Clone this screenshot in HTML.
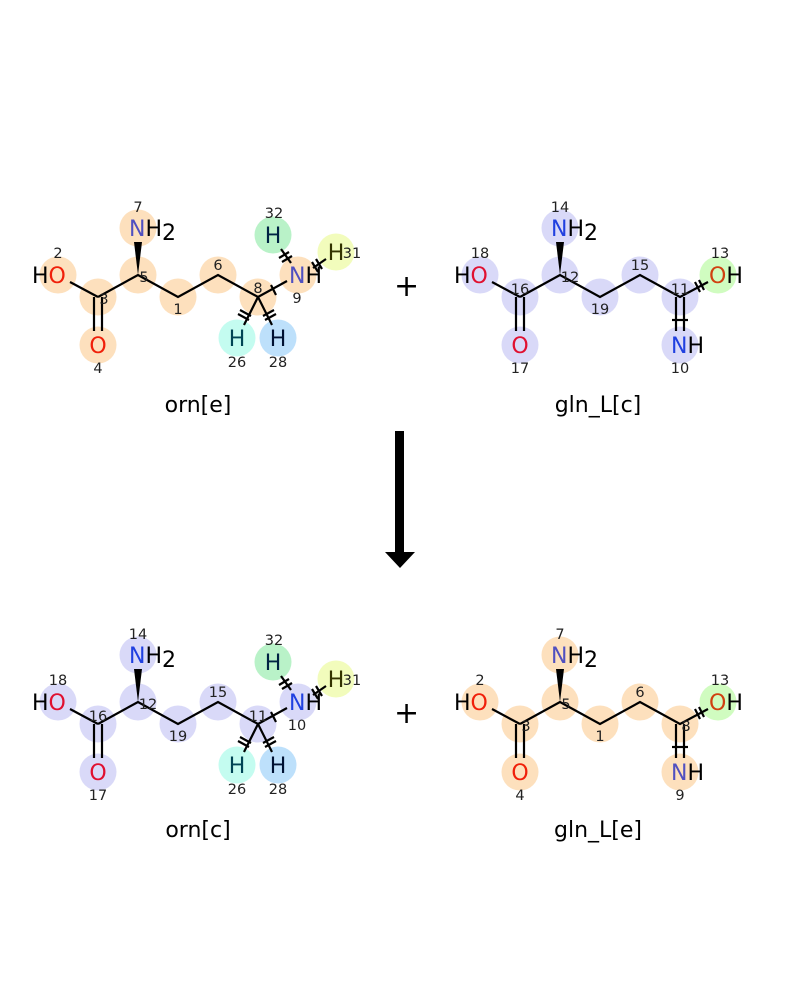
<!DOCTYPE html>
<html><head><meta charset="utf-8"><style>
html,body{margin:0;padding:0;background:#fff;width:800px;height:1000px;overflow:hidden}
svg{display:block}
.a{font-family:"DejaVu Sans","Liberation Sans",sans-serif;font-size:22px}
.c{text-anchor:middle}
.n{font-family:"DejaVu Sans","Liberation Sans",sans-serif;font-size:14.5px;fill:#222}
.t{font-family:"DejaVu Sans","Liberation Sans",sans-serif;font-size:22px;fill:#000}
.b{stroke:#000;stroke-width:2.2;fill:none}
.h{stroke:#000;stroke-width:2.2}
</style></head><body>
<svg width="800" height="1000" viewBox="0 0 800 1000" xmlns="http://www.w3.org/2000/svg">
<defs>
<g id="ornBonds">
<line class="b" x1="70" y1="282" x2="98" y2="297"/>
<polyline class="b" points="98,297 138,275 178,297 218,275 258,297 287,281"/>
<line class="b" x1="94" y1="297" x2="94" y2="331"/>
<line class="b" x1="102" y1="297" x2="102" y2="331"/>
<polygon points="138,275 134,242 142,242" fill="#000"/>
<line class="b" x1="258" y1="297" x2="244" y2="325"/>
<line class="b" x1="258" y1="297" x2="272" y2="325"/>
<line class="b" x1="291" y1="263" x2="281" y2="249"/>
<line class="b" x1="313" y1="268" x2="326" y2="259"/>
<line class="h" x1="271" y1="285" x2="276" y2="295"/>
<line class="h" x1="238" y1="314" x2="249" y2="320"/><line class="h" x1="240" y1="310" x2="251" y2="316"/>
<line class="h" x1="265" y1="320" x2="276" y2="314"/><line class="h" x1="263" y1="316" x2="274" y2="310"/>
<line class="h" x1="279" y1="258" x2="289" y2="252"/><line class="h" x1="282" y1="262" x2="292" y2="256"/>
<line class="h" x1="312" y1="262" x2="318" y2="272"/><line class="h" x1="316" y1="259" x2="322" y2="269"/>
</g>
<g id="glnBonds">
<line class="b" x1="492" y1="282" x2="520" y2="297"/>
<polyline class="b" points="520,297 560,275 600,297 640,275 680,297 708,282"/>
<line class="b" x1="516" y1="297" x2="516" y2="331"/>
<line class="b" x1="524" y1="297" x2="524" y2="331"/>
<line class="b" x1="676" y1="297" x2="676" y2="331"/>
<line class="b" x1="684" y1="297" x2="684" y2="331"/>
<line class="h" x1="672" y1="320" x2="688" y2="320"/>
<polygon points="560,275 556,242 564,242" fill="#000"/>
<line class="h" x1="695" y1="282" x2="700" y2="292"/><line class="h" x1="699" y1="280" x2="704" y2="290"/>
</g>
</defs>

<!-- TOP LEFT orn[e] -->
<g>
<g fill="#fde0bd">
<circle cx="58" cy="275" r="18.5"/><circle cx="98" cy="297" r="18.5"/><circle cx="98" cy="345" r="18.5"/>
<circle cx="138" cy="275" r="18.5"/><circle cx="138" cy="228" r="18.5"/><circle cx="178" cy="297" r="18.5"/>
<circle cx="218" cy="275" r="18.5"/><circle cx="258" cy="297" r="18.5"/><circle cx="298" cy="275" r="18.5"/>
</g>
<circle cx="273" cy="235" r="18.5" fill="#b9f2c8"/>
<circle cx="336" cy="252" r="18.5" fill="#f2fcbc"/>
<circle cx="237" cy="338" r="18.5" fill="#c4fcf0"/>
<circle cx="278" cy="338" r="18.5" fill="#bde0fb"/>
<use href="#ornBonds"/>
<text class="a" x="32" y="283"><tspan fill="#000">H</tspan><tspan fill="#f0200a">O</tspan></text>
<text class="a c" x="98" y="353" fill="#f0200a">O</text>
<text class="a" x="129" y="236"><tspan fill="#5050c0">N</tspan><tspan fill="#000">H</tspan><tspan dy="4" fill="#000">2</tspan></text>
<text class="a" x="289" y="283"><tspan fill="#5050c0">N</tspan><tspan fill="#000">H</tspan></text>
<text class="a c" x="273" y="243" fill="#024">H</text>
<text class="a c" x="336" y="260" fill="#330">H</text>
<text class="a c" x="237" y="346" fill="#045">H</text>
<text class="a c" x="278" y="346" fill="#013">H</text>
<g class="n" text-anchor="middle">
<text x="58" y="258">2</text><text x="104" y="304">3</text><text x="98" y="373">4</text>
<text x="144" y="282">5</text><text x="138" y="212">7</text><text x="178" y="314">1</text>
<text x="218" y="270">6</text><text x="258" y="293">8</text><text x="297" y="303">9</text>
<text x="274" y="218">32</text><text x="352" y="258">31</text>
<text x="237" y="367">26</text><text x="278" y="367">28</text>
</g>
<text class="t" x="198" y="412" text-anchor="middle">orn[e]</text>
</g>

<!-- TOP RIGHT gln_L[c] -->
<g>
<g fill="#d9d9f8">
<circle cx="480" cy="275" r="18.5"/><circle cx="520" cy="297" r="18.5"/><circle cx="520" cy="345" r="18.5"/>
<circle cx="560" cy="275" r="18.5"/><circle cx="560" cy="228" r="18.5"/><circle cx="600" cy="297" r="18.5"/>
<circle cx="640" cy="275" r="18.5"/><circle cx="680" cy="297" r="18.5"/><circle cx="680" cy="345" r="18.5"/>
</g>
<circle cx="718" cy="275" r="18.5" fill="#d0fcc0"/>
<use href="#glnBonds"/>
<text class="a" x="454" y="283"><tspan fill="#000">H</tspan><tspan fill="#e01030">O</tspan></text>
<text class="a c" x="520" y="353" fill="#e01030">O</text>
<text class="a" x="551" y="236"><tspan fill="#2040e0">N</tspan><tspan fill="#000">H</tspan><tspan dy="4" fill="#000">2</tspan></text>
<text class="a" x="709" y="283"><tspan fill="#d04010">O</tspan><tspan fill="#000">H</tspan></text>
<text class="a" x="671" y="353"><tspan fill="#2040e0">N</tspan><tspan fill="#000">H</tspan></text>
<g class="n" text-anchor="middle">
<text x="480" y="258">18</text><text x="520" y="294">16</text><text x="520" y="373">17</text>
<text x="570" y="282">12</text><text x="560" y="212">14</text><text x="600" y="314">19</text>
<text x="640" y="270">15</text><text x="680" y="294">11</text><text x="680" y="373">10</text>
<text x="720" y="258">13</text>
</g>
<text class="t" x="598" y="412" text-anchor="middle">gln_L[c]</text>
</g>

<!-- arrow and plus -->
<rect x="395" y="431" width="9" height="124" fill="#000"/>
<polygon points="385,552 415,552 400,568" fill="#000"/>
<text x="394" y="296" style="font-family:'DejaVu Sans',sans-serif;font-size:30px">+</text>
<text x="394" y="723" style="font-family:'DejaVu Sans',sans-serif;font-size:30px">+</text>

<!-- BOTTOM LEFT orn[c] -->
<g transform="translate(0,427)">
<g fill="#d9d9f8">
<circle cx="58" cy="275" r="18.5"/><circle cx="98" cy="297" r="18.5"/><circle cx="98" cy="345" r="18.5"/>
<circle cx="138" cy="275" r="18.5"/><circle cx="138" cy="228" r="18.5"/><circle cx="178" cy="297" r="18.5"/>
<circle cx="218" cy="275" r="18.5"/><circle cx="258" cy="297" r="18.5"/><circle cx="298" cy="275" r="18.5"/>
</g>
<circle cx="273" cy="235" r="18.5" fill="#b9f2c8"/>
<circle cx="336" cy="252" r="18.5" fill="#f2fcbc"/>
<circle cx="237" cy="338" r="18.5" fill="#c4fcf0"/>
<circle cx="278" cy="338" r="18.5" fill="#bde0fb"/>
<use href="#ornBonds"/>
<text class="a" x="32" y="283"><tspan fill="#000">H</tspan><tspan fill="#e01030">O</tspan></text>
<text class="a c" x="98" y="353" fill="#e01030">O</text>
<text class="a" x="129" y="236"><tspan fill="#2040e0">N</tspan><tspan fill="#000">H</tspan><tspan dy="4" fill="#000">2</tspan></text>
<text class="a" x="289" y="283"><tspan fill="#2040e0">N</tspan><tspan fill="#000">H</tspan></text>
<text class="a c" x="273" y="243" fill="#024">H</text>
<text class="a c" x="336" y="260" fill="#330">H</text>
<text class="a c" x="237" y="346" fill="#045">H</text>
<text class="a c" x="278" y="346" fill="#013">H</text>
<g class="n" text-anchor="middle">
<text x="58" y="258">18</text><text x="98" y="294">16</text><text x="98" y="373">17</text>
<text x="148" y="282">12</text><text x="138" y="212">14</text><text x="178" y="314">19</text>
<text x="218" y="270">15</text><text x="258" y="294">11</text><text x="297" y="303">10</text>
<text x="274" y="218">32</text><text x="352" y="258">31</text>
<text x="237" y="367">26</text><text x="278" y="367">28</text>
</g>
<text class="t" x="198" y="410" text-anchor="middle">orn[c]</text>
</g>

<!-- BOTTOM RIGHT gln_L[e] -->
<g transform="translate(0,427)">
<g fill="#fde0bd">
<circle cx="480" cy="275" r="18.5"/><circle cx="520" cy="297" r="18.5"/><circle cx="520" cy="345" r="18.5"/>
<circle cx="560" cy="275" r="18.5"/><circle cx="560" cy="228" r="18.5"/><circle cx="600" cy="297" r="18.5"/>
<circle cx="640" cy="275" r="18.5"/><circle cx="680" cy="297" r="18.5"/><circle cx="680" cy="345" r="18.5"/>
</g>
<circle cx="718" cy="275" r="18.5" fill="#d0fcc0"/>
<use href="#glnBonds"/>
<text class="a" x="454" y="283"><tspan fill="#000">H</tspan><tspan fill="#f0200a">O</tspan></text>
<text class="a c" x="520" y="353" fill="#f0200a">O</text>
<text class="a" x="551" y="236"><tspan fill="#5050c0">N</tspan><tspan fill="#000">H</tspan><tspan dy="4" fill="#000">2</tspan></text>
<text class="a" x="709" y="283"><tspan fill="#d04010">O</tspan><tspan fill="#000">H</tspan></text>
<text class="a" x="671" y="353"><tspan fill="#5050c0">N</tspan><tspan fill="#000">H</tspan></text>
<g class="n" text-anchor="middle">
<text x="480" y="258">2</text><text x="526" y="304">3</text><text x="520" y="373">4</text>
<text x="566" y="282">5</text><text x="560" y="212">7</text><text x="600" y="314">1</text>
<text x="640" y="270">6</text><text x="686" y="304">8</text><text x="680" y="373">9</text>
<text x="720" y="258">13</text>
</g>
<text class="t" x="598" y="410" text-anchor="middle">gln_L[e]</text>
</g>
</svg>
</body></html>
